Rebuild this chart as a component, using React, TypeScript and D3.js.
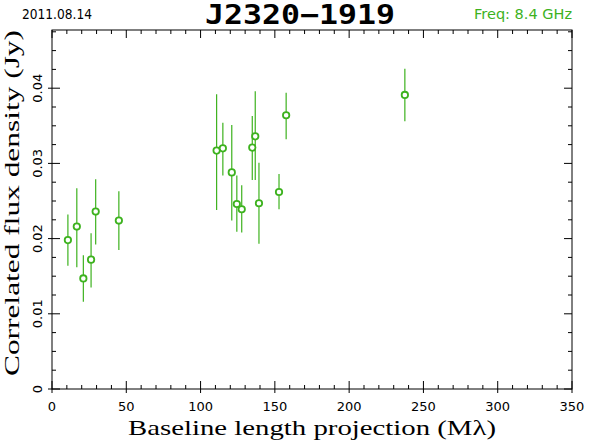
import React, {useEffect, useRef} from 'react'
import * as d3 from 'd3'

// baseline projection (Mlambda), flux (Jy), and error bar low/high (Jy)
const baseline = [10.7, 16.7, 21.1, 26.3, 29.4, 45.0, 110.8, 115.0, 121.0, 124.4, 127.7, 134.8, 136.8, 139.3, 152.8, 157.6, 237.5];
const flux = [0.0198, 0.0216, 0.0147, 0.0172, 0.0236, 0.0224, 0.0317, 0.0320, 0.0288, 0.0246, 0.0239, 0.0321, 0.0336, 0.0247, 0.0262, 0.0364, 0.0391];
const fluxLo = [0.0164, 0.0162, 0.0116, 0.0135, 0.0192, 0.0185, 0.0238, 0.0284, 0.0224, 0.0209, 0.0208, 0.0278, 0.0278, 0.0193, 0.0239, 0.0332, 0.0356];
const fluxHi = [0.0232, 0.0267, 0.0178, 0.0207, 0.0279, 0.0263, 0.0392, 0.0354, 0.0351, 0.0284, 0.0271, 0.0363, 0.0396, 0.0301, 0.0286, 0.0394, 0.0426];

const xTicks = [0, 50, 100, 150, 200, 250, 300, 350];
const yTicks = [0, 0.01, 0.02, 0.03, 0.04];

const W = 590, H = 443;
const margin = {top: 30, right: 18, bottom: 54, left: 52};
const green = '#3db21e';

const App = () => {
  const ref = useRef<SVGSVGElement>(null);

  useEffect(() => {
    const svg = d3.select(ref.current);
    svg.selectAll('*').remove();
    const w = W - margin.left - margin.right;
    const h = H - margin.top - margin.bottom;

    const x = d3.scaleLinear().domain([0, 350]).range([0, w]);
    const y = d3.scaleLinear().domain([0, 0.01]).range([h, h - 75.2]);
    const yMax = y.invert(0);

    const g = svg.append('g').attr('transform', `translate(${margin.left},${margin.top})`);

    g.append('rect').attr('width', w).attr('height', h)
      .attr('fill', 'none').attr('stroke', 'black').attr('stroke-width', 1);

    const xMinor = d3.range(0, 351, 10);
    const yMinor = d3.range(0, yMax, 0.0025);

    // ticks on all four sides, pointing inward
    xMinor.forEach(v => {
      const big = v % 50 === 0;
      const len = big ? 8 : 4;
      g.append('line').attr('x1', x(v)).attr('x2', x(v)).attr('y1', h).attr('y2', h - len).attr('stroke', 'black');
      g.append('line').attr('x1', x(v)).attr('x2', x(v)).attr('y1', 0).attr('y2', len).attr('stroke', 'black');
      if (big) {
        g.append('line').attr('x1', x(v)).attr('x2', x(v)).attr('y1', h).attr('y2', h + 4).attr('stroke', 'black');
      }
    });
    yMinor.forEach((v, i) => {
      const big = i % 4 === 0;
      const len = big ? 8 : 4;
      g.append('line').attr('x1', 0).attr('x2', len).attr('y1', y(v)).attr('y2', y(v)).attr('stroke', 'black');
      g.append('line').attr('x1', w).attr('x2', w - len).attr('y1', y(v)).attr('y2', y(v)).attr('stroke', 'black');
      if (big) {
        g.append('line').attr('x1', 0).attr('x2', -4).attr('y1', y(v)).attr('y2', y(v)).attr('stroke', 'black');
      }
    });

    g.selectAll('.xl').data(xTicks).enter().append('text')
      .attr('x', d => x(d)).attr('y', h + 22)
      .attr('text-anchor', 'middle')
      .attr('font-family', 'DejaVu Sans').attr('font-size', 13)
      .text(d => d);

    g.selectAll('.yl').data(yTicks).enter().append('text')
      .attr('transform', d => `translate(-10,${y(d)}) rotate(-90)`)
      .attr('text-anchor', 'middle')
      .attr('font-family', 'DejaVu Sans').attr('font-size', 13)
      .text(d => d === 0 ? '0' : String(d));

    svg.append('text')
      .attr('x', 128).attr('y', H - 8)
      .attr('textLength', 368).attr('lengthAdjust', 'spacingAndGlyphs')
      .attr('font-family', 'Liberation Serif').attr('font-size', 22)
      .text('Baseline length projection (M\u03bb)');

    svg.append('text')
      .attr('transform', `translate(19,376) rotate(-90)`)
      .attr('textLength', 346).attr('lengthAdjust', 'spacingAndGlyphs')
      .attr('font-family', 'Liberation Serif').attr('font-size', 22)
      .text('Correlated flux density (Jy)');

    svg.append('text').attr('x', 22).attr('y', 19)
      .attr('textLength', 70).attr('lengthAdjust', 'spacingAndGlyphs')
      .attr('font-family', 'DejaVu Sans').attr('font-size', 14)
      .text('2011.08.14');
    svg.append('text').attr('x', 205).attr('y', 24)
      .attr('textLength', 190).attr('lengthAdjust', 'spacingAndGlyphs')
      .attr('font-family', 'DejaVu Sans Mono').attr('font-weight', 'bold').attr('font-size', 26)
      .text('J2320\u22121919');
    svg.append('text').attr('x', 572).attr('y', 19)
      .attr('text-anchor', 'end').attr('fill', green)
      .attr('font-family', 'DejaVu Sans').attr('font-size', 14.5)
      .text('Freq: 8.4 GHz');

    const idx = d3.range(baseline.length);
    g.selectAll('.err').data(idx).enter().append('line')
      .attr('x1', i => x(baseline[i])).attr('x2', i => x(baseline[i]))
      .attr('y1', i => y(fluxLo[i])).attr('y2', i => y(fluxHi[i]))
      .attr('stroke', green).attr('stroke-width', 1.2);

    g.selectAll('circle').data(idx).enter().append('circle')
      .attr('cx', i => x(baseline[i])).attr('cy', i => y(flux[i]))
      .attr('r', 3.2)
      .attr('fill', 'white').attr('stroke', green).attr('stroke-width', 1.8);
  }, []);

  return <svg ref={ref} width={W} height={H} style={{position: 'absolute', left: 0, top: 0, background: 'white'}}></svg>
};

export default App
